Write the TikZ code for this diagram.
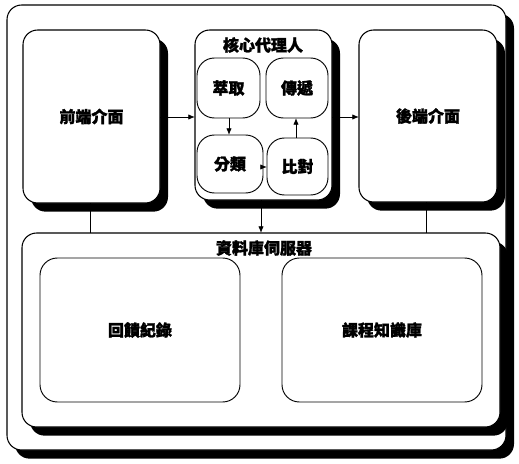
\documentclass[tikz,border=0pt]{standalone}
\usepackage{fontspec}
\setmainfont{Noto Sans CJK TC}[FakeBold=1.6]
\usetikzlibrary{shadows,arrows.meta}
\begin{document}
\begin{tikzpicture}[x=0.75pt,y=-0.75pt,
  shbox/.style={draw, line width=0.8pt, fill=white, rounded corners=11pt, inner sep=0pt, outer sep=0pt,
    drop shadow={shadow xshift=6pt, shadow yshift=-6.5pt, fill=black, opacity=1}},
  plainbox/.style={draw, line width=0.7pt, fill=white, rounded corners=13pt, inner sep=0pt, outer sep=0pt},
  lbl/.style={font=\fontsize{12}{14}\selectfont\bfseries},
  arr/.style={-{Latex[length=5pt,width=4pt]}, line width=0.6pt},
  conn/.style={line width=0.6pt}]
\useasboundingbox (0,0) rectangle (519,464);
% outer frame
\node[shbox, minimum width={499*0.75pt}, minimum height={445*0.75pt}] (outer) at (256.5,227.5) {};
% top row
\node[shbox, lbl, minimum width={137*0.75pt}, minimum height={173*0.75pt}] (front) at (91.5,116.5) {前端介面};
\node[shbox, minimum width={137*0.75pt}, minimum height={170*0.75pt}] (core) at (263.5,115) {};
\node[lbl] (coret) at (263,45) {核心代理人};
\node[shbox, lbl, minimum width={138*0.75pt}, minimum height={172*0.75pt}] (back) at (428,116) {後端介面};
% inner agents
\node[plainbox, lbl, minimum width={63*0.75pt}, minimum height={60*0.75pt}] (extract) at (228.5,88) {萃取};
\node[plainbox, lbl, minimum width={62*0.75pt}, minimum height={60*0.75pt}] (deliver) at (297,88) {傳遞};
\node[plainbox, lbl, minimum width={66*0.75pt}, minimum height={58*0.75pt}] (classify) at (230,164) {分類};
\node[plainbox, lbl, minimum width={61*0.75pt}, minimum height={57*0.75pt}] (compare) at (297.5,166.5) {比對};
% database
\node[shbox, minimum width={478*0.75pt}, minimum height={194*0.75pt}] (db) at (261,330) {};
\node[lbl] (dbt) at (264,248) {資料庫伺服器};
\node[plainbox, lbl, minimum width={200*0.75pt}, minimum height={144*0.75pt}] (feedback) at (140,330) {回饋紀錄};
\node[plainbox, lbl, minimum width={200*0.75pt}, minimum height={144*0.75pt}] (kb) at (382,330) {課程知識庫};
% connectors
\draw[arr] (front.east |- 0,117) -- (core.west |- 0,117);
\draw[arr] (core.east |- 0,117) -- (back.west |- 0,117);
\draw[arr] (extract.south -| 229,0) -- (classify.north -| 229,0);
\draw[arr] (compare.north -| 296,0) -- (deliver.south -| 296,0);
\draw[arr] (classify.east |- 0,167) -- (compare.west |- 0,167);
\draw[arr] (core.south -| 261,0) -- (db.north -| 261,0);
\draw[conn] (front.south -| 90,0) -- (db.north -| 90,0);
\draw[conn] (back.south -| 426,0) -- (db.north -| 426,0);
\end{tikzpicture}
\end{document}
